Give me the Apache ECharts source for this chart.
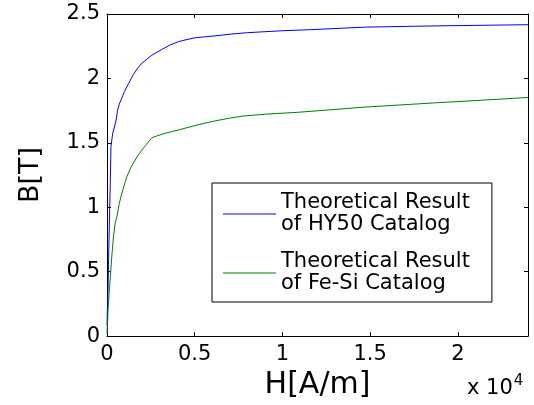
<!DOCTYPE html>
<html>
<head>
<meta charset="utf-8">
<title>B-H curves</title>
<script src="https://cdn.jsdelivr.net/npm/echarts@6/dist/echarts.min.js"></script>
<style>
  html, body { margin: 0; padding: 0; background: #fff; }
  #chart { width: 534px; height: 405px; }
</style>
</head>
<body>
<div id="chart"></div>
<script>
// Magnetising field H [A/m] and flux density B [T] for each material
const hy50H = [0, 20, 55, 90, 130, 187, 227, 320, 510, 600, 700, 850, 1000, 1230, 1500, 1750, 2000, 2555, 3125, 3600, 4070, 4500, 5020, 5500, 6150, 7000, 8000, 10000, 11550, 14700, 17500, 20000, 24000];
const hy50B = [0.08, 0.2, 0.33, 0.6, 0.84, 1.19, 1.47, 1.57, 1.67, 1.75, 1.8, 1.85, 1.9, 1.96, 2.03, 2.08, 2.12, 2.18, 2.225, 2.26, 2.285, 2.3, 2.315, 2.322, 2.33, 2.343, 2.355, 2.37, 2.378, 2.398, 2.405, 2.41, 2.417];

const feSiH = [0, 30, 60, 120, 190, 280, 375, 470, 570, 700, 850, 1000, 1140, 1400, 1800, 2200, 2560, 3200, 4070, 5300, 6150, 7000, 7760, 9000, 10970, 14760, 18540, 21500, 24000];
const feSiB = [0.02, 0.1, 0.2, 0.33, 0.46, 0.63, 0.78, 0.88, 0.93, 1.03, 1.11, 1.18, 1.24, 1.32, 1.41, 1.48, 1.54, 1.57, 1.6, 1.644, 1.67, 1.692, 1.708, 1.722, 1.738, 1.778, 1.809, 1.832, 1.852];

const seriesNames = ['Theoretical Result\nof HY50 Catalog', 'Theoretical Result\nof Fe-Si Catalog'];
const xTickLabels = { 0: '0', 5000: '0.5', 10000: '1', 15000: '1.5', 20000: '2' };
const yTickLabels = { 0: '0', 0.5: '0.5', 1: '1', 1.5: '1.5', 2: '2', 2.5: '2.5' };

const pair = (xs, ys) => xs.map((x, i) => [x, ys[i]]);

const FONT = 'DejaVu Sans';
const frameAxis = {
  axisLine: { show: true, onZero: false, lineStyle: { color: '#000', width: 1 } },
  axisTick: { show: true, inside: true, length: 4, lineStyle: { color: '#000' } },
  splitLine: { show: false }
};

const chart = echarts.init(document.getElementById('chart'), null, { renderer: 'canvas' });
chart.setOption({
  animation: false,
  backgroundColor: '#fff',
  textStyle: { fontFamily: FONT },
  grid: { left: 107, top: 14, right: 6, bottom: 62, containLabel: false },
  title: {
    text: 'x 10{s|4}',
    left: 467,
    top: 374,
    padding: 0,
    textStyle: {
      fontFamily: FONT, fontSize: 21, fontWeight: 'normal', color: '#000',
      rich: { s: { fontFamily: FONT, fontSize: 15, color: '#000', padding: [0, 0, 14, 1] } }
    }
  },
  legend: {
    orient: 'vertical',
    left: 212,
    top: 183,
    padding: [9, 22, 7, 11],
    itemGap: 15,
    itemWidth: 53,
    itemHeight: 1,
    icon: 'rect',
    borderColor: '#000',
    borderWidth: 1,
    backgroundColor: '#fff',
    textStyle: { fontFamily: FONT, fontSize: 21, lineHeight: 22, color: '#000' },
    data: seriesNames
  },
  xAxis: [
    Object.assign({
      type: 'value', position: 'bottom', min: 0, max: 24000, interval: 5000,
      name: 'H[A/m]', nameLocation: 'middle', nameGap: 27,
      nameTextStyle: { fontFamily: FONT, fontSize: 30, color: '#000' },
      axisLabel: {
        margin: 8, color: '#000', fontFamily: FONT, fontSize: 21,
        showMaxLabel: false,
        formatter: v => (v in xTickLabels ? xTickLabels[v] : '')
      }
    }, frameAxis),
    Object.assign({
      type: 'value', position: 'top', min: 0, max: 24000, interval: 5000,
      axisLabel: { show: false }
    }, frameAxis)
  ],
  yAxis: [
    Object.assign({
      type: 'value', position: 'left', min: 0, max: 2.5, interval: 0.5,
      name: 'B[T]', nameLocation: 'middle', nameGap: 63,
      nameTextStyle: { fontFamily: FONT, fontSize: 27, color: '#000' },
      axisLabel: {
        margin: 7, color: '#000', fontFamily: FONT, fontSize: 21,
        formatter: v => (v in yTickLabels ? yTickLabels[v] : '')
      }
    }, frameAxis),
    Object.assign({
      type: 'value', position: 'right', min: 0, max: 2.5, interval: 0.5,
      axisLabel: { show: false }
    }, frameAxis)
  ],
  series: [
    {
      name: seriesNames[0], type: 'line', symbol: 'none', smooth: false,
      xAxisIndex: 0, yAxisIndex: 0,
      lineStyle: { color: '#0000ff', width: 1 }, itemStyle: { color: '#0000ff' },
      data: pair(hy50H, hy50B)
    },
    {
      name: seriesNames[1], type: 'line', symbol: 'none', smooth: false,
      xAxisIndex: 0, yAxisIndex: 0,
      lineStyle: { color: '#008000', width: 1 }, itemStyle: { color: '#008000' },
      data: pair(feSiH, feSiB)
    }
  ]
});
</script>
</body>
</html>
